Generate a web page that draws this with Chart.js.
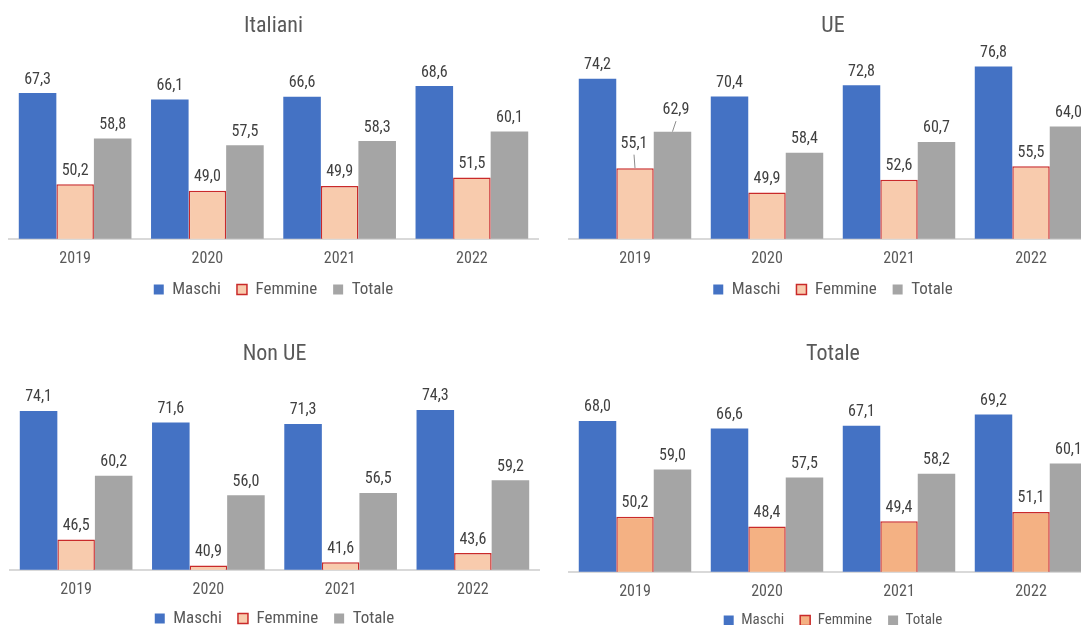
<!DOCTYPE html>
<html><head><meta charset="utf-8">
<script src="https://cdn.jsdelivr.net/npm/chart.js@4.4.1/dist/chart.umd.min.js"></script>
<style>
html,body{margin:0;padding:0;background:#fff;width:1081px;height:625px;overflow:hidden;position:relative}
canvas{position:absolute}
</style></head><body>
<canvas id="cIta"></canvas>
<canvas id="cUe"></canvas>
<canvas id="cNonUe"></canvas>
<canvas id="cTot"></canvas>
<script>
// ---- data ----
const categories = ['2019', '2020', '2021', '2022'];
const seriesNames = ['Maschi', 'Femmine', 'Totale'];
const chartTitles = ['Italiani', 'UE', 'Non UE', 'Totale'];

const italianiMaschi  = [67.3, 66.1, 66.6, 68.6];
const italianiFemmine = [50.2, 49.0, 49.9, 51.5];
const italianiTotale  = [58.8, 57.5, 58.3, 60.1];

const ueMaschi  = [74.2, 70.4, 72.8, 76.8];
const ueFemmine = [55.1, 49.9, 52.6, 55.5];
const ueTotale  = [62.9, 58.4, 60.7, 64.0];

const nonUeMaschi  = [74.1, 71.6, 71.3, 74.3];
const nonUeFemmine = [46.5, 40.9, 41.6, 43.6];
const nonUeTotale  = [60.2, 56.0, 56.5, 59.2];

const totMaschi  = [68.0, 66.6, 67.1, 69.2];
const totFemmine = [50.2, 48.4, 49.4, 51.1];
const totTotale  = [59.0, 57.5, 58.2, 60.1];

const yMin = 40;

// ---- styling ----
const FONT = '"Liberation Sans Narrow", "Roboto Condensed", "Arial Narrow", "DejaVu Sans Condensed", sans-serif';
const BLUE = '#4472C4', GRAY = '#A5A5A5', RED = '#C92A2A';
const PEACH = '#F8CBAD', PEACH_DARK = '#F4B183';
const TEXT = '#595959', LABEL = '#404040';

const valueLabels = {
  id: 'valueLabels',
  afterDatasetsDraw(chart, args, opts) {
    const ctx = chart.ctx;
    ctx.save();
    ctx.font = '16px ' + FONT;
    ctx.textAlign = 'center';
    ctx.textBaseline = 'middle';
    chart.data.datasets.forEach((ds, di) => {
      const meta = chart.getDatasetMeta(di);
      meta.data.forEach((el, i) => {
        const c = (opts.callouts || []).find(o => o.d === di && o.i === i);
        const lx = el.x + (c ? c.dx : 0);
        const ly = el.y - 13.5 + (c ? c.dy : 0);
        if (c) {
          ctx.strokeStyle = '#8C8C8C';
          ctx.lineWidth = 1;
          ctx.beginPath();
          ctx.moveTo(el.x, el.y);
          ctx.lineTo(lx, ly + 11);
          ctx.stroke();
        }
        ctx.fillStyle = LABEL;
        ctx.fillText(ds.data[i].toFixed(1).replace('.', ','), lx, ly);
      });
    });
    ctx.restore();
  }
};

function makeChart(id, pos, title, maschi, femmine, totale, femFill, ppu, legendSize, shrink, callouts) {
  const cv = document.getElementById(id);
  cv.width = pos.w; cv.height = pos.h;
  cv.style.left = pos.x + 'px'; cv.style.top = pos.y + 'px';
  cv.style.width = pos.w + 'px'; cv.style.height = pos.h + 'px';
  const ch = new Chart(cv, {
    type: 'bar',
    data: {
      labels: categories,
      datasets: [
        { label: seriesNames[0], data: maschi, backgroundColor: BLUE, borderWidth: 0 },
        { label: seriesNames[1], data: femmine, backgroundColor: femFill, borderColor: RED, borderWidth: 1.5 },
        { label: seriesNames[2], data: totale, backgroundColor: GRAY, borderWidth: 0 }
      ]
    },
    options: {
      responsive: false,
      animation: false,
      events: [],
      devicePixelRatio: 1,
      layout: { padding: { left: 9, right: 8, top: 0, bottom: 0 } },
      datasets: { bar: { categoryPercentage: 0.852, barPercentage: 1.0 } },
      scales: {
        x: {
          grid: { display: false, drawTicks: false },
          border: { display: true, color: '#D9D9D9', width: 2 },
          ticks: { padding: 11, color: TEXT, font: { family: FONT, size: 16 } },
          afterFit(scale) { scale.height -= shrink; }
        },
        y: { display: false, min: yMin, max: 80 }
      },
      plugins: {
        title: {
          display: true, text: title, color: TEXT,
          font: { family: FONT, size: 22, weight: 'normal' },
          padding: { top: 13, bottom: 9 }
        },
        legend: {
          position: 'bottom',
          labels: {
            boxWidth: 10, boxHeight: 10, padding: 16, color: TEXT,
            font: { family: FONT, size: legendSize }
          }
        },
        tooltip: { enabled: false },
        valueLabels: { callouts: callouts }
      }
    },
    plugins: [valueLabels]
  });
  const a = ch.chartArea;
  ch.options.scales.y.max = yMin + (a.bottom - a.top) / ppu;
  ch.update('none');
  return ch;
}

makeChart('cIta', { x: 0, y: 0, w: 546, h: 308 }, chartTitles[0],
  italianiMaschi, italianiFemmine, italianiTotale, PEACH, 5.34, 17, 15, []);
makeChart('cUe', { x: 560, y: 0, w: 545, h: 308 }, chartTitles[1],
  ueMaschi, ueFemmine, ueTotale, PEACH, 4.68, 17, 15,
  [{ d: 1, i: 0, dx: -1, dy: -11 }, { d: 2, i: 0, dx: 3.5, dy: -8 }]);
makeChart('cNonUe', { x: 1, y: 328, w: 546, h: 309 }, chartTitles[2],
  nonUeMaschi, nonUeFemmine, nonUeTotale, PEACH, 4.66, 17, 17, []);
makeChart('cTot', { x: 560, y: 328, w: 545, h: 310 }, chartTitles[3],
  totMaschi, totFemmine, totTotale, PEACH_DARK, 5.39, 15, 16, []);
</script>
</body></html>
